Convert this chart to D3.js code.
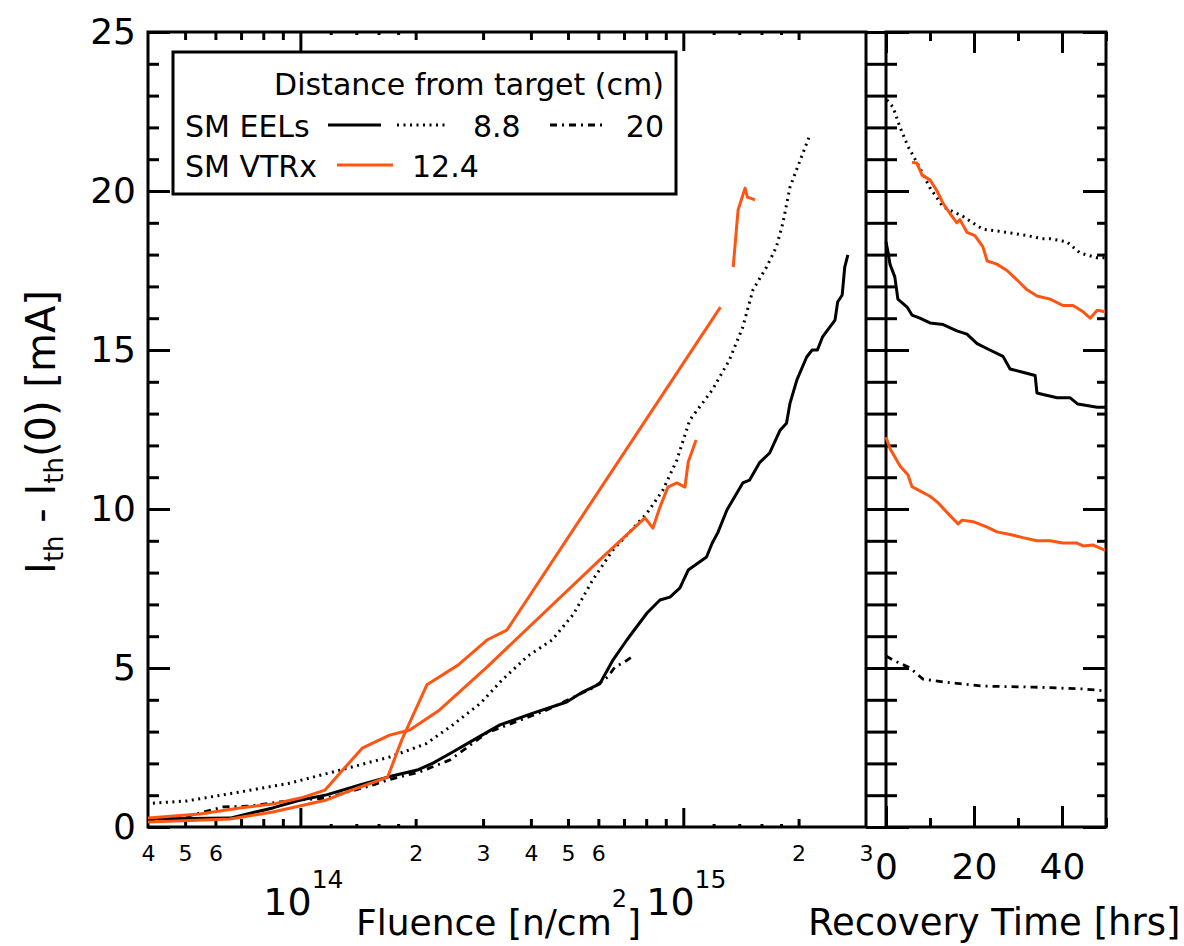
<!DOCTYPE html>
<meta charset="utf-8">
<script src="https://d3js.org/d3.v7.min.js"></script>
<style>
  body { margin: 0; background: #fff; }
  text { font-family: "DejaVu Sans", sans-serif; fill: #000; }
</style>
<svg id="chart" width="1184" height="946"></svg>
<script>
// ---- data: fluence [n/cm^2] vs Ith - Ith(0) [mA] ----
const eelsSolid = [[4.0e13,0.25],[6.55e13,0.28],[8.47e13,0.60],[1.0e14,0.85],[1.17e14,1.01],[1.43e14,1.32],
  [1.69e14,1.57],[2.02e14,1.79],[2.22e14,2.01],[2.50e14,2.36],[2.77e14,2.67],[3.32e14,3.21],[4.05e14,3.58],
  [4.96e14,3.93],[5.47e14,4.25],[6.05e14,4.50],[6.55e14,5.25],[7.12e14,5.88],[8.04e14,6.73],[8.69e14,7.14],
  [9.23e14,7.23],[9.80e14,7.52],[1.03e15,8.08],[1.15e15,8.49],[1.19e15,8.93],[1.23e15,9.25],[1.30e15,9.97],
  [1.43e15,10.82],[1.49e15,10.91],[1.58e15,11.45],[1.68e15,11.76],[1.79e15,12.48],[1.86e15,12.70],
  [1.90e15,13.33],[1.98e15,14.06],[2.10e15,14.78],[2.17e15,15.0],[2.24e15,15.0],[2.31e15,15.41],
  [2.49e15,15.94],[2.53e15,16.51],[2.60e15,16.73],[2.64e15,17.61],[2.69e15,17.99]];

const eels88 = [[4.12e13,0.75],[5.06e13,0.82],[6.95e13,1.10],[9.40e13,1.38],[1.27e14,1.79],[1.71e14,2.20],
  [2.13e14,2.62],[2.50e14,3.21],[2.96e14,3.90],[3.36e14,4.62],[3.93e14,5.38],[4.54e14,5.88],[5.17e14,6.70],
  [5.80e14,7.77],[6.55e14,8.71],[8.04e14,9.87],[8.85e14,10.60],[9.62e14,11.54],[1.04e15,12.80],
  [1.19e15,13.74],[1.32e15,14.69],[1.43e15,15.72],[1.52e15,16.89],[1.65e15,17.61],[1.75e15,18.24],
  [1.82e15,18.99],[1.90e15,20.13],[2.02e15,20.97],[2.14e15,21.76]];

const eels20 = [[4.0e13,0.22],[4.85e13,0.28],[6.28e13,0.63],[7.38e13,0.66],[8.85e13,0.79],[1.0e14,0.85],
  [1.17e14,0.91],[1.55e14,1.32],[1.69e14,1.48],[2.05e14,1.73],[2.46e14,2.11],[3.07e14,2.96],[4.40e14,3.68],
  [5.80e14,4.37],[6.35e14,4.72],[6.63e14,5.03],[7.03e14,5.19],[7.47e14,5.41]];

const vtrxA = [[4.0e13,0.28],[5.47e13,0.41],[6.95e13,0.60],[8.47e13,0.72],[1.0e14,0.91],[1.16e14,1.16],
  [1.29e14,1.79],[1.45e14,2.48],[1.71e14,2.89],[1.93e14,3.05],[2.31e14,3.68],[3.07e14,5.03],[6.05e14,8.40],
  [7.94e14,9.72],[8.33e14,9.40],[8.69e14,10.06],[9.12e14,10.69],[9.62e14,10.82],[1.01e15,10.69],
  [1.03e15,11.48],[1.08e15,12.17]];

const vtrxB = [[4.0e13,0.16],[6.55e13,0.25],[8.47e13,0.47],[1.17e14,0.85],[1.32e14,1.10],[1.69e14,1.57],
  [1.84e14,2.74],[2.14e14,4.47],[2.58e14,5.09],[3.07e14,5.88],[3.46e14,6.19],[1.25e15,16.35]];

const vtrxBTail = [[1.35e15,17.61],[1.39e15,19.40],[1.45e15,20.09],[1.47e15,19.81],[1.54e15,19.72]];

// ---- data: recovery time [hrs] vs Ith - Ith(0) [mA] ----
const recEelsSolid = [[0,18.4],[0.5,18.05],[0.9,17.7],[2.0,17.3],[2.7,16.6],[4.8,16.35],[5.9,16.1],
  [7.7,16.0],[10.0,15.85],[13.0,15.8],[16.1,15.6],[18.4,15.5],[20.7,15.2],[23.6,15.0],[26.6,14.8],
  [28.2,14.4],[31.1,14.3],[33.9,14.2],[34.3,13.65],[35.7,13.6],[38.9,13.5],[41.8,13.5],[43.6,13.3],
  [48.0,13.2],[49.8,13.2]];

const recEels88 = [[0.2,22.86],[1.6,22.64],[3.2,22.0],[5.0,21.4],[7.0,20.9],[10.0,20.1],[13.0,19.5],
  [17.5,19.2],[22.0,18.8],[27.5,18.7],[32.0,18.6],[35.5,18.5],[37.3,18.5],[41.1,18.4],[44.1,18.05],
  [48.0,17.9],[49.8,17.9]];

const recEels20 = [[0,5.38],[1.6,5.25],[5.5,5.0],[8.4,4.65],[13.0,4.56],[22.0,4.43],[33.4,4.4],
  [44.8,4.34],[49.8,4.28]];

const recVtrxUpper = [[5.9,20.9],[7.0,20.88],[8.2,20.5],[10.0,20.35],[11.6,20.0],[13.0,19.6],[14.5,19.3],
  [16.1,19.0],[16.8,19.1],[18.4,18.7],[20.2,18.6],[22.0,18.25],[23.0,17.8],[25.2,17.7],[27.5,17.5],
  [29.8,17.2],[32.0,16.9],[34.3,16.7],[37.3,16.6],[40.2,16.4],[42.5,16.4],[44.8,16.2],[46.4,16.0],
  [48.0,16.25],[49.8,16.2]];

const recVtrxLower = [[0,12.26],[0.9,11.9],[3.2,11.35],[5.0,11.07],[5.9,10.7],[7.7,10.57],[10.0,10.4],
  [11.8,10.2],[14.5,9.8],[16.4,9.53],[17.3,9.65],[19.8,9.6],[23.0,9.43],[25.2,9.28],[28.2,9.2],
  [31.1,9.1],[34.3,9.0],[37.3,9.0],[40.2,8.93],[43.4,8.93],[44.8,8.84],[47.0,8.87],[49.8,8.7]];

// ---- ticks ----
const yMajor = [0, 5, 10, 15, 20, 25];
const yMinor = d3.range(0, 26, 1);
const fluenceDecades = [1e14, 1e15];
const fluenceMinor = [5e13,6e13,7e13,8e13,9e13,2e14,3e14,4e14,5e14,6e14,7e14,8e14,9e14,2e15];
const fluenceTiny = [1.2e14,1.4e14,1.6e14,1.8e14,1.2e15,1.4e15,1.6e15,1.8e15];
const fluenceLabels = [4e13,5e13,6e13,2e14,3e14,4e14,5e14,6e14,2e15,3e15];
const timeMajor = [0, 20, 40];
const timeMinor = [10, 30, 50];

const orange = "#ff5512";
const svg = d3.select("#chart");
svg.append("rect").attr("width", 1184).attr("height", 946).attr("fill", "#fff");

// scales
const x = d3.scaleLog().domain([4e13, 3e15]).range([148, 866]);
const xr = d3.scaleLinear().domain([0, 50]).range([886, 1106]);
const y = d3.scaleLinear().domain([0, 25]).range([827, 32]);

function drawAxis(axis, tx, ty) {
  const g = svg.append("g").attr("transform", `translate(${tx},${ty})`).call(axis);
  g.select(".domain").remove();
  g.selectAll(".tick line").attr("stroke", "#000").attr("stroke-width", 3);
  g.attr("font-family", "DejaVu Sans").attr("font-size", null);
  return g;
}

// left panel y axis
drawAxis(d3.axisLeft(y).tickValues(yMinor).tickSize(-11).tickFormat(""), 148, 0);
drawAxis(d3.axisLeft(y).tickValues(yMajor).tickSize(-22).tickPadding(12), 148, 0)
  .selectAll("text").attr("font-size", 36);

// left panel x axis (bottom and top, inward)
[[d3.axisBottom, 827], [d3.axisTop, 32]].forEach(([ax, ty]) => {
  drawAxis(ax(x).tickValues(fluenceTiny).tickSize(-3).tickFormat(""), 0, ty);
  drawAxis(ax(x).tickValues(fluenceMinor).tickSize(-8).tickFormat(""), 0, ty);
  drawAxis(ax(x).tickValues(fluenceDecades).tickSize(-19).tickFormat(""), 0, ty);
});
drawAxis(d3.axisBottom(x).tickValues(fluenceLabels).tickSize(0).tickPadding(18)
  .tickFormat(d => String(Math.round(d / Math.pow(10, Math.floor(Math.log10(d)))))), 0, 827)
  .selectAll("text").attr("font-size", 22);

// decade labels 10^n
fluenceDecades.forEach(d => {
  const t = svg.append("text").attr("x", x(d) + 3).attr("y", 915)
    .attr("text-anchor", "middle").attr("font-size", 38);
  t.append("tspan").text("10");
  t.append("tspan").attr("font-size", 25).attr("dy", -27).text(Math.round(Math.log10(d)));
});

// right panel axes
drawAxis(d3.axisRight(y).tickValues(yMinor).tickSize(31).tickFormat(""), 866, 0);
drawAxis(d3.axisRight(y).tickValues(yMajor).tickSize(43).tickFormat(""), 866, 0);
drawAxis(d3.axisLeft(y).tickValues(yMinor).tickSize(9).tickFormat(""), 1106, 0);
drawAxis(d3.axisLeft(y).tickValues(yMajor).tickSize(23).tickFormat(""), 1106, 0);
[[d3.axisBottom, 827], [d3.axisTop, 32]].forEach(([ax, ty]) => {
  drawAxis(ax(xr).tickValues(timeMinor).tickSize(-9).tickFormat(""), 0, ty);
  drawAxis(ax(xr).tickValues(timeMajor).tickSize(-21).tickFormat(""), 0, ty);
});
drawAxis(d3.axisBottom(xr).tickValues(timeMajor).tickSize(0).tickPadding(26), 0, 827)
  .selectAll("text").attr("font-size", 36);

// frames
svg.append("rect").attr("x", 148).attr("y", 32).attr("width", 866 - 148).attr("height", 827 - 32)
  .attr("fill", "none").attr("stroke", "#000").attr("stroke-width", 3);
svg.append("rect").attr("x", 886).attr("y", 32).attr("width", 1106 - 886).attr("height", 827 - 32)
  .attr("fill", "none").attr("stroke", "#000").attr("stroke-width", 3);

// series
const styles = {
  solid: { stroke: "#000", width: 3, dash: null },
  dot: { stroke: "#000", width: 3, dash: "2,4.5" },
  dashdot: { stroke: "#000", width: 2.8, dash: "7,5,2,5" },
  vtrx: { stroke: orange, width: 3, dash: null }
};
function drawLine(data, xs, st) {
  const s = styles[st];
  svg.append("path").datum(data)
    .attr("fill", "none").attr("stroke", s.stroke).attr("stroke-width", s.width)
    .attr("stroke-dasharray", s.dash).attr("stroke-linejoin", "round")
    .attr("d", d3.line().x(d => xs(d[0])).y(d => y(d[1])));
}
drawLine(eels20, x, "dashdot");
drawLine(eels88, x, "dot");
drawLine(eelsSolid, x, "solid");
drawLine(vtrxA, x, "vtrx");
drawLine(vtrxB, x, "vtrx");
drawLine(vtrxBTail, x, "vtrx");

drawLine(recEels88, xr, "dot");
drawLine(recEels20, xr, "dashdot");
drawLine(recEelsSolid, xr, "solid");
drawLine(recVtrxUpper, xr, "vtrx");
drawLine(recVtrxLower, xr, "vtrx");

// legend
const lg = svg.append("g");
lg.append("rect").attr("x", 173).attr("y", 52).attr("width", 503).attr("height", 142)
  .attr("fill", "#fff").attr("stroke", "#000").attr("stroke-width", 3);
lg.append("text").attr("x", 664).attr("y", 95).attr("text-anchor", "end").attr("font-size", 30)
  .text("Distance from target (cm)");
lg.append("text").attr("x", 185).attr("y", 137).attr("font-size", 30).text("SM EELs");
lg.append("text").attr("x", 185).attr("y", 177).attr("font-size", 30).text("SM VTRx");
function legLine(x1, x2, yy, st) {
  const s = styles[st];
  lg.append("line").attr("x1", x1).attr("x2", x2).attr("y1", yy).attr("y2", yy)
    .attr("stroke", s.stroke).attr("stroke-width", s.width).attr("stroke-dasharray", s.dash);
}
legLine(328, 381, 125, "solid");
legLine(397, 449, 125, "dot");
lg.append("text").attr("x", 473).attr("y", 137).attr("font-size", 30).text("8.8");
legLine(550, 605, 125, "dashdot");
lg.append("text").attr("x", 664).attr("y", 137).attr("text-anchor", "end").attr("font-size", 30).text("20");
legLine(337, 393, 165, "vtrx");
lg.append("text").attr("x", 412).attr("y", 177).attr("font-size", 30).text("12.4");

// axis titles
const xt = svg.append("text").attr("x", 356).attr("y", 935).attr("font-size", 36);
xt.append("tspan").text("Fluence [n/cm");
xt.append("tspan").attr("font-size", 24).attr("dy", -28).text("2");
xt.append("tspan").attr("dy", 28).text("]");

svg.append("text").attr("x", 808).attr("y", 935).attr("font-size", 37).text("Recovery Time [hrs]");

const yt = svg.append("text").attr("transform", "translate(55,432) rotate(-90)")
  .attr("text-anchor", "middle").attr("font-size", 40);
yt.append("tspan").text("I");
yt.append("tspan").attr("font-size", 26).attr("dy", 8).text("th");
yt.append("tspan").attr("dy", -8).text(" - I");
yt.append("tspan").attr("font-size", 26).attr("dy", 8).text("th");
yt.append("tspan").attr("dy", -8).text("(0) [mA]");
</script>
